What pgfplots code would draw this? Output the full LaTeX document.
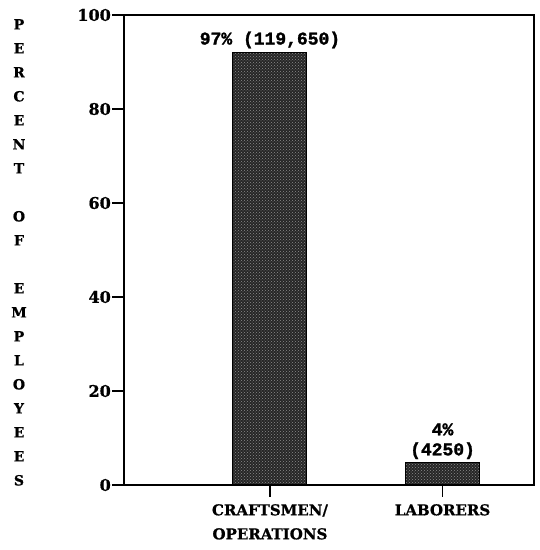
\documentclass[border=0pt]{standalone}
\usepackage{fontspec}
\setmainfont{DejaVu Serif}[BoldFeatures={FakeBold=0.8}]
\newfontfamily\monob{Liberation Mono}[BoldFeatures={FakeBold=1.5}]
\usepackage{pgfplots}
\usetikzlibrary{patterns}
\pgfplotsset{compat=1.18}
\begin{document}
\begin{tikzpicture}
\begin{axis}[
  name=ax,
  scale only axis,
  width=410pt, height=470pt,
  xmin=0.154, xmax=2.53,
  ymin=0, ymax=100,
  ytick={0,20,...,100},
  xtick={1,2},
  xticklabels={{CRAFTSMEN/\\OPERATIONS},{LABORERS}},
  xticklabel style={align=center, font=\fontsize{15}{24}\selectfont\bfseries, anchor=north, inner sep=2pt, yshift=-5pt},
  yticklabel style={font=\fontsize{16}{18}\selectfont\bfseries, inner sep=1pt},
  /pgf/number format/assume math mode=true,
  tick align=outside,
  tick pos=left,
  major tick length=12pt,
  axis line style={line width=2pt},
  every tick/.style={black, line width=1.6pt},
  ybar, bar width=74pt,
  nodes near coords,
  point meta=explicit symbolic,
  every node near coord/.append style={font=\monob\fontsize{18}{20}\selectfont\bfseries, align=center, anchor=south, yshift=0pt, black},
  clip=false,
]
\addplot[fill=black!85, draw=black, line width=1pt, postaction={pattern=crosshatch dots, pattern color=black!45}] coordinates {(1,92.1) [97\% (119,650)] (2,4.7) [{4\%\\(4250)}]};
\end{axis}
\node[anchor=north, inner sep=0pt, align=center, font=\fontsize{14}{24}\selectfont\bfseries] at ([xshift=-105pt,yshift=-4pt]ax.north west) {P\\E\\R\\C\\E\\N\\T\\[24pt]O\\F\\[24pt]E\\M\\P\\L\\O\\Y\\E\\E\\S};
\pgfresetboundingbox
\path ([xshift=-124pt,yshift=-65pt]ax.south west) rectangle ([xshift=5pt,yshift=15pt]ax.north east);
\end{tikzpicture}
\end{document}
